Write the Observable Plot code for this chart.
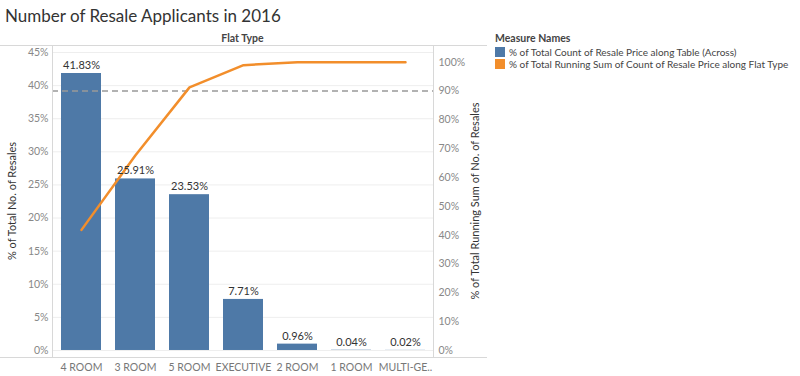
<!DOCTYPE html>
<html>
<head>
<meta charset="utf-8">
<script src="https://cdn.jsdelivr.net/npm/d3@7"></script>
<script src="https://cdn.jsdelivr.net/npm/@observablehq/plot@0.6"></script>
<style>
  html, body { margin: 0; padding: 0; background: #fff; }
  body { width: 800px; height: 376px; position: relative; overflow: hidden; font-family: Lato, "Open Sans", sans-serif; }
  #title { position: absolute; left: 5px; top: 5px; font-size: 17px; color: #333; white-space: nowrap; }
  #hdr { position: absolute; left: 52px; width: 381px; top: 32px; text-align: center; font-size: 10.5px; color: #444; font-weight: bold; }
  .hline { position: absolute; left: 0; width: 487px; height: 1px; background: #d8d8d8; }
  .vline { position: absolute; top: 45px; height: 312px; width: 1px; background: #d8d8d8; }
  .ytitle { position: absolute; width: 300px; text-align: center; font-size: 11px; color: #333; white-space: nowrap;
            transform: rotate(-90deg); transform-origin: center center; line-height: 12px; top: 195px; }
  #legend { position: absolute; left: 495px; top: 32px; font-size: 10px; color: #444; white-space: nowrap; }
  #legend .t { font-weight: bold; height: 14px; line-height: 13px; font-size: 10.5px; }
  #legend .row { display: flex; align-items: center; height: 12px; }
  #legend .sw { width: 10px; height: 10px; margin-right: 4px; }
  #chart { position: absolute; left: 0; top: 0; }
</style>
</head>
<body>
<div id="chart"></div>
<div id="title">Number of Resale Applicants in 2016</div>
<div id="hdr">Flat Type</div>
<div class="hline" style="top:45px"></div>
<div class="hline" style="top:357px"></div>
<div class="vline" style="left:52px"></div>
<div class="vline" style="left:433px"></div>
<div class="ytitle" id="ytl" style="left:-138px"></div>
<div class="ytitle" id="ytr" style="left:325px"></div>
<div id="legend"></div>
<script>
const flatTypes = ["4 ROOM", "3 ROOM", "5 ROOM", "EXECUTIVE", "2 ROOM", "1 ROOM", "MULTI-GENERATION"];
const pctOfTotal = [41.83, 25.91, 23.53, 7.71, 0.96, 0.04, 0.02];
const runningPct = [41.83, 67.74, 91.27, 98.98, 99.94, 99.98, 100.0];
const leftTicks = [0, 5, 10, 15, 20, 25, 30, 35, 40, 45];
const rightTicks = [0, 10, 20, 30, 40, 50, 60, 70, 80, 90, 100];
const referencePct = 90;
const leftTitle = "% of Total No. of Resales";
const rightTitle = "% of Total Running Sum of No. of Resales";
const legendTitle = "Measure Names";
const legendItems = [
  {label: "% of Total Count of Resale Price along Table (Across)", color: "#4e79a7"},
  {label: "% of Total Running Sum of Count of Resale Price along Flat Type", color: "#f28e2b"}
];

const factor = 0.4354; // right-axis % -> left-axis % units
const data = flatTypes.map((t, i) => ({type: t, pct: pctOfTotal[i], run: runningPct[i] * factor}));

const chart = Plot.plot({
  width: 800,
  height: 376,
  marginLeft: 52,
  marginRight: 367,
  marginTop: 45,
  marginBottom: 19,
  style: {fontFamily: "Lato, 'Open Sans', sans-serif", fontSize: "10.5px", background: "transparent"},
  x: {domain: flatTypes, paddingInner: 0.26, paddingOuter: 0.13, align: 0.5},
  y: {domain: [-1.06, 46.06]},
  marks: [
    Plot.gridY(leftTicks, {stroke: "#eeeeee", strokeOpacity: 1}),
    Plot.barY(data, {x: "type", y: "pct", fill: legendItems[0].color}),
    Plot.ruleY([referencePct * factor], {stroke: "#999", strokeDasharray: "6,4", strokeWidth: 1.3}),
    Plot.line(data, {x: "type", y: "run", stroke: legendItems[1].color, strokeWidth: 2.5}),
    Plot.text(data, {x: "type", y: "pct", text: d => d.pct.toFixed(2) + "%", dy: -8, fill: "#333", fontSize: 11}),
    Plot.axisX({tickSize: 0, tickPadding: 6, label: null, color: "#777",
      tickFormat: d => d.length > 10 ? d.slice(0, 8) + ".." : d}),
    Plot.axisY(leftTicks, {anchor: "left", tickSize: 0, tickPadding: 4, color: "#888",
      tickFormat: d => d + "%", label: null}),
    Plot.axisY(rightTicks.map(v => v * factor), {anchor: "right", tickSize: 0, tickPadding: 5, color: "#888",
      tickFormat: d => Math.round(d / factor) + "%", label: null})
  ]
});
document.getElementById("chart").appendChild(chart);
document.getElementById("ytl").textContent = leftTitle;
document.getElementById("ytr").textContent = rightTitle;

const lg = document.getElementById("legend");
lg.innerHTML = `<div class="t">${legendTitle}</div>` + legendItems.map(d =>
  `<div class="row"><div class="sw" style="background:${d.color}"></div><span>${d.label}</span></div>`).join("");
</script>
</body>
</html>
